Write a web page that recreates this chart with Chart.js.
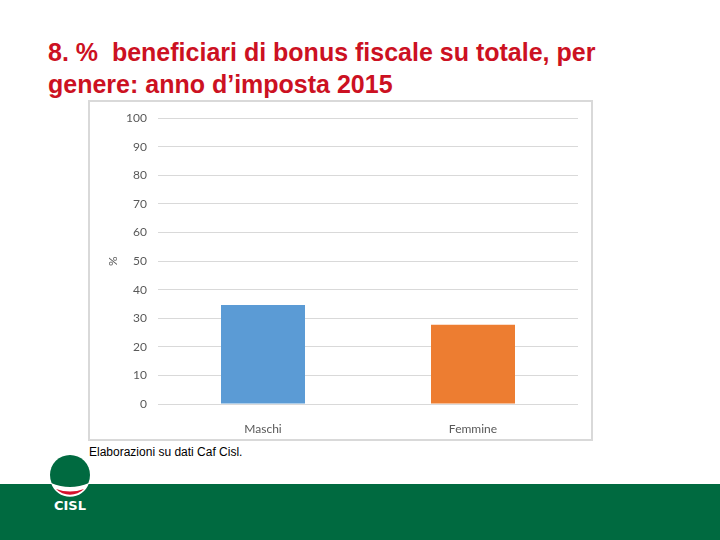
<!DOCTYPE html>
<html>
<head>
<meta charset="utf-8">
<script src="https://cdn.jsdelivr.net/npm/chart.js@4.4.0/dist/chart.umd.min.js"></script>
<style>
  html, body { margin: 0; padding: 0; }
  body { width: 720px; height: 540px; position: relative; overflow: hidden; background: #fff; font-family: "Liberation Sans", Arial, sans-serif; }
  #title { position: absolute; left: 48px; top: 36px; color: #cc1122; font-size: 25px; font-weight: bold; line-height: 32px; white-space: nowrap; }
  #box { position: absolute; left: 88px; top: 100px; width: 501px; height: 337px; border: 2px solid #d9d9d9; }
  #wrap { position: absolute; left: 88px; top: 100px; width: 505px; height: 341px; }
  #note { position: absolute; left: 89px; top: 445px; font-size: 12px; color: #000; }
  #band { position: absolute; left: 0; top: 484px; width: 720px; height: 56px; background: #006a40; }
  #logo { position: absolute; left: 44px; top: 450px; }
</style>
</head>
<body>
<div id="title">8. % &nbsp;beneficiari di bonus fiscale su totale, per<br>genere: anno d’imposta 2015</div>
<div id="box"></div>
<div id="wrap"><canvas id="myChart" width="505" height="341"></canvas></div>
<div id="note">Elaborazioni su dati Caf Cisl.</div>
<div id="band"></div>
<svg id="logo" width="52" height="65" viewBox="0 0 52 65">
  <circle cx="26" cy="25" r="20" fill="#006a40"/>
  <path d="M7 33 Q26 41 45 33 A20 20 0 0 1 7 33 Z" fill="#ffffff"/>
  <path d="M12 39 Q26 44 40 39 A20 20 0 0 1 12 39 Z" fill="#d5102c"/>
  <text x="26" y="60" text-anchor="middle" font-family="DejaVu Sans" font-weight="bold" font-size="13" fill="#ffffff">CISL</text>
</svg>
<script>
'use strict';

var categories = ['Maschi', 'Femmine'];
var values = [34.6, 27.7];
var barColors = ['#5b9bd5', '#ed7d31'];
var yTicks = [0, 10, 20, 30, 40, 50, 60, 70, 80, 90, 100];

var ctx = document.getElementById('myChart').getContext('2d');
var myChart = new Chart(ctx, {
  type: 'bar',
  data: {
    labels: categories,
    datasets: [{
      label: '%',
      data: values,
      backgroundColor: barColors,
      borderWidth: 0,
      categoryPercentage: 1,
      barPercentage: 0.4
    }]
  },
  options: {
    responsive: false,
    animation: false,
    layout: { padding: { left: 18, top: 17, right: 15, bottom: 0 } },
    plugins: { legend: { display: false }, tooltip: { enabled: false } },
    scales: {
      x: {
        grid: { display: false },
        border: { display: false },
        ticks: { color: '#595959', font: { family: 'Lato', size: 12 }, padding: 10 },
        afterFit: function (s) { s.height = 37; }
      },
      y: {
        min: 0,
        max: 100,
        afterBuildTicks: function (s) { s.ticks = yTicks.map(function (v) { return { value: v }; }); },
        grid: { color: '#d9d9d9', lineWidth: 1, drawTicks: false },
        border: { display: false },
        ticks: { color: '#595959', font: { family: 'Lato', size: 12 }, padding: 11 },
        title: { display: true, text: '%', color: '#595959', font: { family: 'Lato', size: 12 }, padding: 0 },
        afterFit: function (s) { s.width = 52; }
      }
    }
  }
});
</script>
</body>
</html>
